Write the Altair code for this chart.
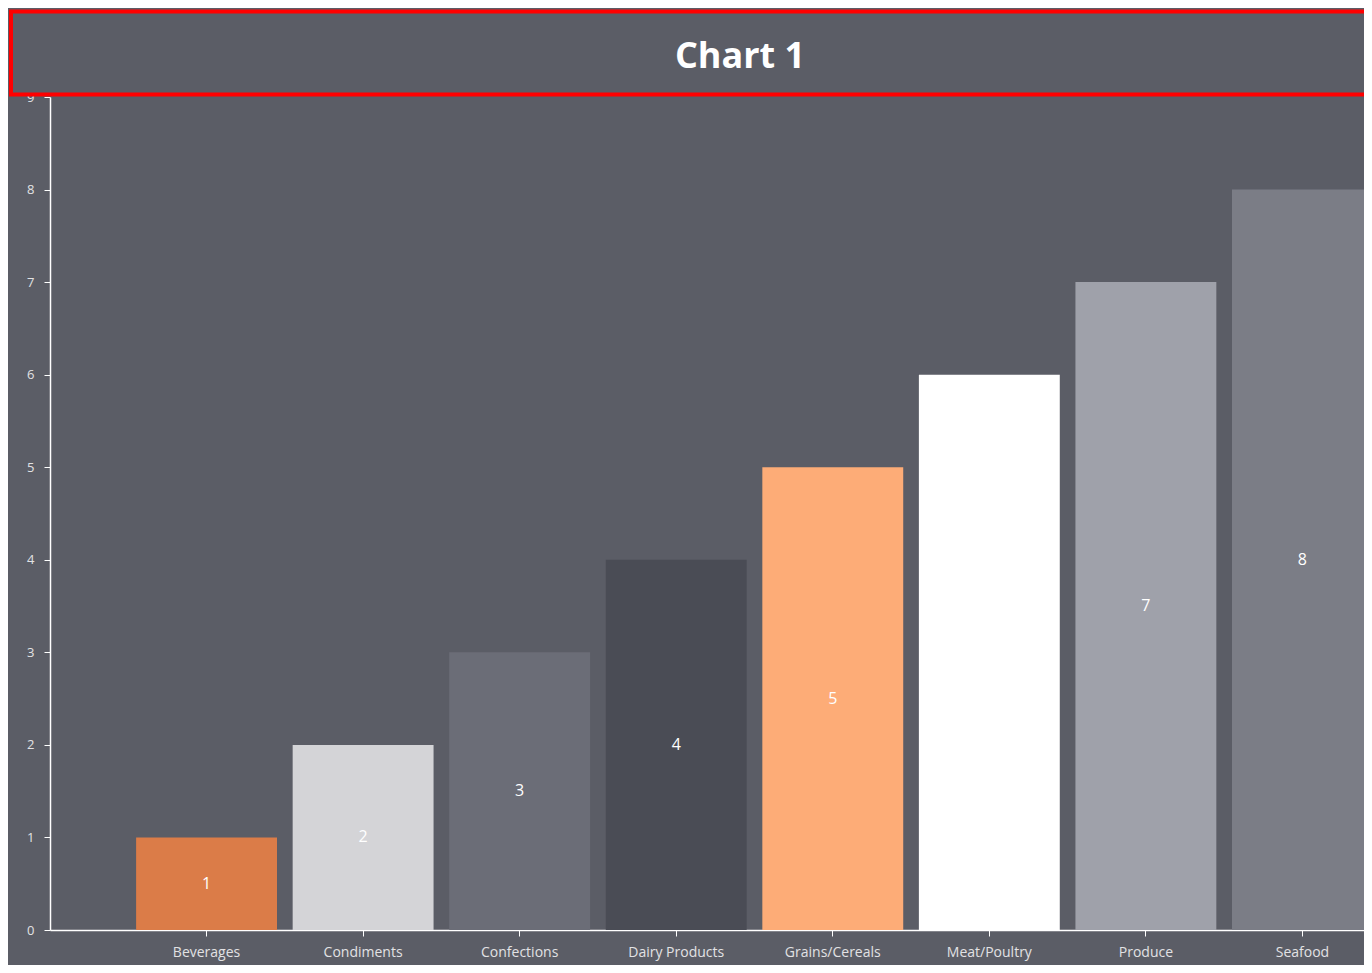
import altair as alt
import pandas as pd

categories = ["Beverages", "Condiments", "Confections", "Dairy Products",
              "Grains/Cereals", "Meat/Poultry", "Produce", "Seafood"]
values = [1, 2, 3, 4, 5, 6, 7, 8]
colors = ["#db7c48", "#d4d4d7", "#6b6d77", "#4a4c55",
          "#fdac77", "#ffffff", "#9fa1aa", "#7b7d86"]
title_text = "Chart 1"

BG = "#5b5d66"
W, H = 1314, 833          # visible plot area (chart is cut at the right edge)
RANGE_W = 1409            # full band-scale extent, wider than what is visible

df = pd.DataFrame({"category": categories, "value": values})

xenc = alt.X("category:N", sort=categories,
             scale=alt.Scale(paddingInner=0.1, paddingOuter=0.55, range=[0, RANGE_W]),
             axis=alt.Axis(title=None, labelAngle=0, labelColor="#e2e2e4",
                           labelFont="Open Sans", labelFontSize=14,
                           labelPadding=9, tickColor="#ffffff", tickSize=6,
                           domainColor="#ffffff", domainWidth=1.5))
yenc = alt.Y("value:Q", scale=alt.Scale(domain=[0, 9], nice=False),
             axis=alt.Axis(title=None, values=list(range(10)), format="d", grid=False,
                           labelColor="#e2e2e4", labelFont="Open Sans",
                           labelFontSize=13, labelPadding=10,
                           tickColor="#ffffff", tickSize=6,
                           domainColor="#ffffff", domainWidth=1.5))

bars = alt.Chart(df).mark_bar().encode(
    x=xenc, y=yenc,
    color=alt.Color("category:N", scale=alt.Scale(domain=categories, range=colors),
                    legend=None),
)

labels = alt.Chart(df).transform_calculate(half="datum.value / 2").mark_text(
    color="#ffffff", font="Open Sans", fontSize=16
).encode(
    x=alt.X("category:N", sort=categories),
    y=alt.Y("half:Q"),
    text=alt.Text("value:Q"),
)

band = alt.Chart(pd.DataFrame({"t": [title_text]})).mark_rect(
    fill=BG, stroke="#ff0000", strokeWidth=4
).encode(
    x=alt.value(-39), x2=alt.value(RANGE_W + 9),
    y=alt.value(-85.5), y2=alt.value(-2.5),
)

title = alt.Chart(pd.DataFrame({"t": [title_text]})).mark_text(
    color="#ffffff", font="Open Sans", fontSize=36, fontWeight="bold",
    align="center", baseline="middle"
).encode(
    x=alt.value(690), y=alt.value(-40), text="t:N",
)

chart = alt.layer(bars, labels, band, title).properties(
    width=W, height=H,
    background=BG,
    autosize=alt.AutoSizeParams(type="none"),
    padding={"left": 42, "top": 89, "right": 0, "bottom": 35},
).configure_view(stroke=None)

chart.save("out.html", embed_options={"renderer": "svg", "actions": False})
